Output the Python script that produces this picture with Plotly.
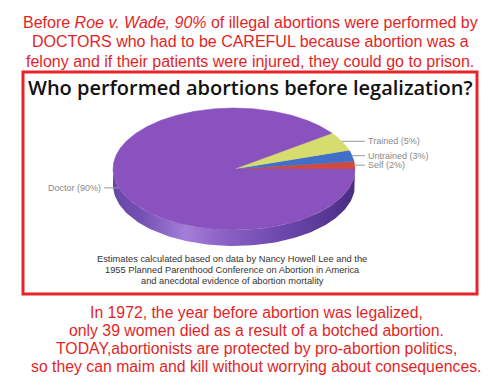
import numpy as np
import plotly.graph_objects as go

# ---- data ----
categories = ["Self", "Untrained", "Trained", "Doctor"]
shares = [2, 3, 5, 90]
slice_colors = ["#d24a3e", "#3f6fc8", "#d6dc6e", "#8a52be"]
label_texts = ["Self (2%)", "Untrained (3%)", "Trained (5%)", "Doctor (90%)"]

title = "Who performed abortions before legalization?"
top_lines = [
    "Before <i>Roe v. Wade, 90%</i> of illegal abortions were performed by",
    "DOCTORS who had to be CAREFUL because abortion was a",
    "felony and if their patients were injured, they could go to prison.",
]
caption_lines = [
    "Estimates calculated based on data by Nancy Howell Lee and the",
    "1955 Planned Parenthood Conference on Abortion in America",
    "and anecdotal evidence of abortion mortality",
]
bottom_lines = [
    "In 1972, the year before abortion was legalized,",
    "only 39 women died as a result of a botched abortion.",
    "TODAY,abortionists are protected by pro-abortion politics,",
    "so they can maim and kill without worrying about consequences.",
]

# ---- geometry (pixel space) ----
W, H = 500, 386
cx, cy, rx, ry, depth = 234, 169, 121, 61, 16
RED = "#e41f26"

def pt(deg, dy=0.0):
    a = np.radians(deg)
    return cx + rx * np.cos(a), cy - ry * np.sin(a) + dy

fig = go.Figure()

# side of pie (front half) with gradient
th = np.linspace(180, 360, 120)
xs_top, ys_top = pt(th)
xs_bot, ys_bot = pt(th[::-1], depth)
fig.add_trace(go.Scatter(
    x=np.concatenate([xs_top, xs_bot]), y=np.concatenate([ys_top, ys_bot]),
    mode="lines", fill="toself", line=dict(width=0, color="#6a45a8"),
    fillgradient=dict(type="horizontal", colorscale=[
        [0.0, "#6646a6"], [0.12, "#7452b4"], [0.3, "#a47ed8"], [0.45, "#8c62c6"],
        [0.7, "#6c48ac"], [0.9, "#563692"], [1.0, "#4a2c82"]]),
    hoverinfo="skip", showlegend=False))

# top face slices
total = sum(shares)
start = 0.0
mids = []
for cat, val, col in zip(categories, shares, slice_colors):
    span = 360.0 * val / total
    a = np.linspace(start, start + span, max(8, int(span * 2)))
    ex, ey = pt(a)
    fig.add_trace(go.Scatter(
        x=np.concatenate([[cx], ex, [cx]]), y=np.concatenate([[cy], ey, [cy]]),
        mode="lines", fill="toself", fillcolor=col, line=dict(width=0.5, color=col),
        name=cat, hoverinfo="name", showlegend=False))
    mids.append(start + span / 2)
    start += span

# labels with leader lines
for txt, m in zip(label_texts, mids):
    ex, ey = pt(m)
    right = np.cos(np.radians(m)) >= 0
    lx = 365 if right else 104
    fig.add_trace(go.Scatter(x=[ex, lx], y=[ey, ey], mode="lines",
                             line=dict(color="#9a9a9a", width=1),
                             hoverinfo="skip", showlegend=False))
    fig.add_annotation(x=lx + (1 if right else -1), y=ey, text=txt, showarrow=False,
                       xanchor="left" if right else "right", yanchor="middle",
                       font=dict(family="Liberation Sans, Arial", size=9, color="#8a8a8a"))

# red frame
fig.add_shape(type="rect", x0=23, y0=72, x1=477, y1=294,
              line=dict(color="#e8242a", width=3), layer="below")

# title
fig.add_annotation(x=250, y=87, text=title, showarrow=False, xanchor="center", yanchor="middle",
                   font=dict(family="Comic Sans MS, Open Sans", size=20, weight=600, color="#111111"))

# top text
for i, s in enumerate(top_lines):
    fig.add_annotation(x=250, y=22 + 19.5 * i, text=s, showarrow=False,
                       xanchor="center", yanchor="middle",
                       font=dict(family="Liberation Sans, Arial", size=16, color=RED))

# caption
for i, s in enumerate(caption_lines):
    fig.add_annotation(x=232, y=259 + 11 * i, text=s, showarrow=False,
                       xanchor="center", yanchor="middle",
                       font=dict(family="Liberation Sans, Arial", size=9.3, color="#333333"))

# bottom text
for i, s in enumerate(bottom_lines):
    fig.add_annotation(x=256, y=312 + 18 * i, text=s, showarrow=False,
                       xanchor="center", yanchor="middle",
                       font=dict(family="Liberation Sans, Arial", size=15.8, color=RED))

fig.update_layout(
    width=W, height=H, margin=dict(l=0, r=0, t=0, b=0),
    paper_bgcolor="white", plot_bgcolor="white",
    xaxis=dict(range=[0, W], visible=False, fixedrange=True),
    yaxis=dict(range=[H, 0], visible=False, fixedrange=True),
)

fig.write_html("out.html", config={"displayModeBar": False},
               post_script="document.body.style.margin='0';document.body.style.overflow='hidden';")
